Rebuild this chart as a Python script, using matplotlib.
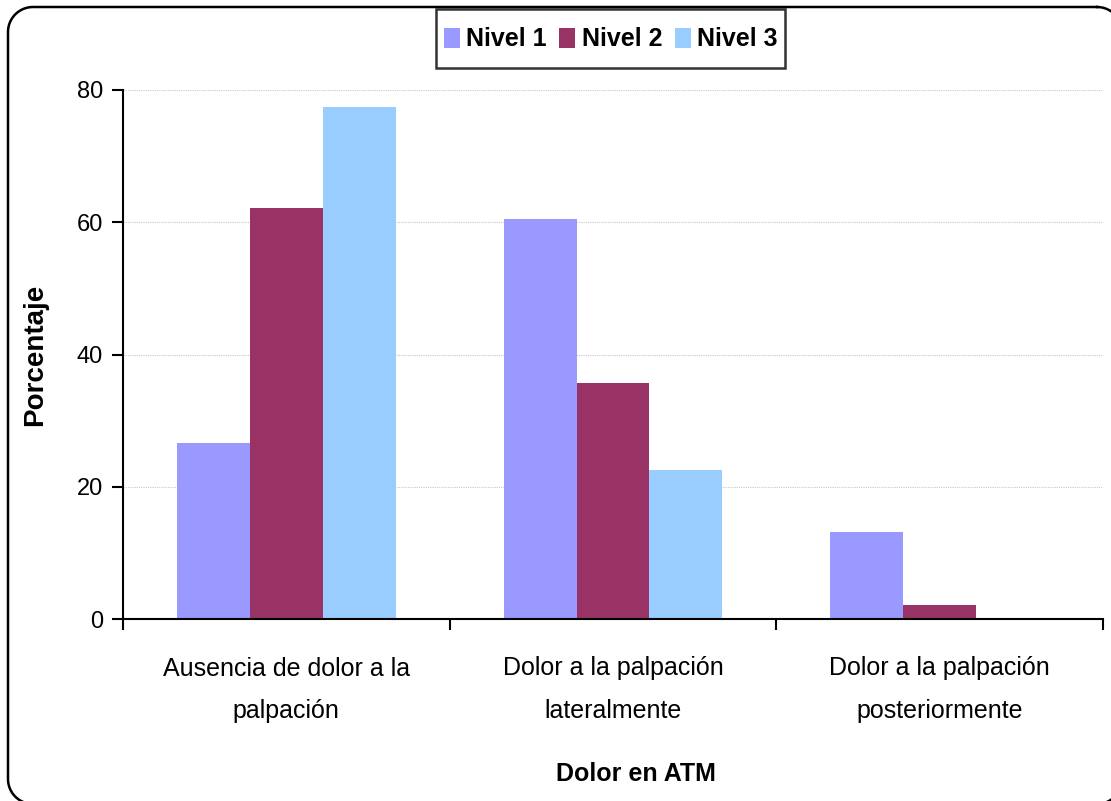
import matplotlib
matplotlib.use("Agg")
import matplotlib.pyplot as plt
import numpy as np
from matplotlib.patches import Rectangle
from matplotlib.container import BarContainer
from matplotlib.legend_handler import HandlerPatch, update_from_first_child

plt.rcParams["font.family"] = ["Liberation Sans", "DejaVu Sans"]

categories = ["Ausencia de dolor a la\npalpación",
              "Dolor a la palpación\nlateralmente",
              "Dolor a la palpación\nposteriormente"]
series_names = ["Nivel 1", "Nivel 2", "Nivel 3"]
nivel1 = [26.6, 60.5, 13.2]
nivel2 = [62.2, 35.7, 2.1]
nivel3 = [77.5, 22.6, 0.0]
colors = ["#9999FF", "#993366", "#99CCFF"]
yticks = [0, 20, 40, 60, 80]

fig = plt.figure(figsize=(11.11, 8.01), dpi=100)

# rounded outer border, in pixel coords (y down)
bg = fig.add_axes([0, 0, 1, 1], zorder=-1)
bg.set_xlim(0, 1111)
bg.set_ylim(801, 0)
bg.axis("off")
x0, y0, x1, y1, r = 8, 7, 1122, 804, 25
t = np.linspace(0, np.pi / 2, 20)
px = np.concatenate([x1 - r + r * np.sin(t), x1 - r + r * np.cos(t),
                     x0 + r - r * np.sin(t), x0 + r - r * np.cos(t)])
py = np.concatenate([y0 + r - r * np.cos(t), y1 - r + r * np.sin(t),
                     y1 - r + r * np.cos(t), y0 + r - r * np.sin(t)])
bg.plot(np.append(px, px[0]), np.append(py, py[0]), color="black", lw=1.8, clip_on=False)

ax = fig.add_axes([123 / 1111, 1 - 619 / 801, 980 / 1111, 529 / 801])
ax.patch.set_alpha(0)

x = np.arange(len(categories))
w = 0.2232
for i, (vals, name, c) in enumerate(zip([nivel1, nivel2, nivel3], series_names, colors)):
    ax.bar(x + (i - 1) * w, vals, width=w, color=c, label=name, zorder=2)

ax.set_xlim(-0.5, len(categories) - 0.5)
ax.set_ylim(0, 80)
ax.set_yticks(yticks)
ax.tick_params(axis="y", labelsize=17, length=8, width=1.5, pad=6.5, direction="out")
ax.yaxis.grid(True, color="#c8c8c8", linestyle=(0, (1, 1)), linewidth=0.8, zorder=0)

ax.set_xticks(x)
ax.set_xticklabels(categories, fontsize=18, linespacing=1.95)
ax.tick_params(axis="x", length=0, pad=27)
ax.set_xticks(np.arange(len(categories) + 1) - 0.5, minor=True)
ax.tick_params(axis="x", which="minor", length=8, width=1.5, direction="out")

for s in ["top", "right"]:
    ax.spines[s].set_visible(False)
for s in ["left", "bottom"]:
    ax.spines[s].set_linewidth(1.5)
    ax.spines[s].set_zorder(3)

ax.set_ylabel("Porcentaje", fontsize=20, fontweight="bold")
ax.yaxis.set_label_coords(-0.0765, 0.5)
ax.set_xlabel("Dolor en ATM", fontsize=18, fontweight="bold")
ax.xaxis.set_label_coords(0.5235, -0.270)


def square(legend, orig_handle, xdescent, ydescent, width, height, fontsize):
    sw, sh = 11.5, 14.5
    return Rectangle((-xdescent + (width - sw) / 2, -ydescent + (height - sh) / 2), sw, sh)


leg = fig.legend(loc="upper center", bbox_to_anchor=(610.5 / 1111, 1 - 9 / 801),
                 ncol=3, frameon=True, fancybox=False, edgecolor="black",
                 prop={"size": 18, "weight": "bold"}, handlelength=0.65,
                 handleheight=2.3, handletextpad=0.25, columnspacing=0.5,
                 borderpad=0.3, borderaxespad=0,
                 handler_map={BarContainer: HandlerPatch(patch_func=square,
                                                         update_func=update_from_first_child)})
leg.get_frame().set_linewidth(1.8)

fig.savefig("out.png", dpi=100)
